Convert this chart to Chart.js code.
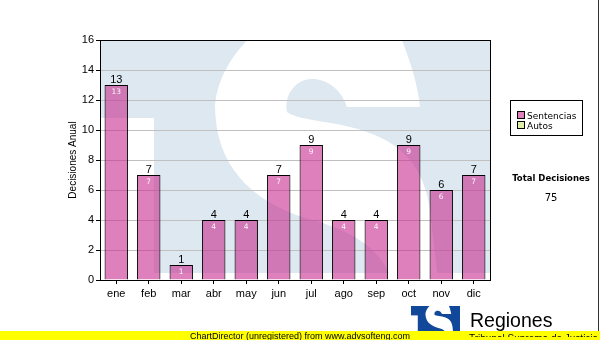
<!DOCTYPE html>
<html>
<head>
<meta charset="utf-8">
<script src="https://cdn.jsdelivr.net/npm/chart.js@4/dist/chart.umd.min.js"></script>
<style>
  html, body { margin: 0; padding: 0; background: #ffffff; }
  canvas { display: block; }
</style>
</head>
<body>
<canvas id="chart" width="600" height="340"></canvas>
<script>
// Monthly decisions
const months = ['ene', 'feb', 'mar', 'abr', 'may', 'jun', 'jul', 'ago', 'sep', 'oct', 'nov', 'dic'];
const sentencias = [13, 7, 1, 4, 4, 7, 9, 4, 4, 9, 6, 7];
const autos = [0, 0, 0, 0, 0, 0, 0, 0, 0, 0, 0, 0];
const seriesNames = ['Sentencias', 'Autos'];
const yMin = 0, yMax = 16, yStep = 2;

const totalDecisiones = sentencias.reduce((a, b) => a + b, 0) + autos.reduce((a, b) => a + b, 0);

const COLORS = {
  sentencias: 'rgba(200, 43, 143, 0.6)',
  sentenciasSwatch: '#e07fbd',
  autos: 'rgba(196, 228, 110, 0.6)',
  autosSwatch: '#dff0a4',
  wash: '#dde8f1',
  grid: '#c0c0c0',
  logoBlue: '#11489a'
};

const SANS = '"Liberation Sans", Arial, sans-serif';
const VERD = '"DejaVu Sans", Verdana, sans-serif';

// TS emblem, drawn in a 390 x 233 local box
function emblem(ctx, dark, light) {
  ctx.fillStyle = dark;
  ctx.fillRect(0, 0, 390, 233);
  ctx.fillStyle = light;
  ctx.fillRect(0, 78, 54, 160);
  ctx.beginPath();
  ctx.moveTo(152, -5);
  ctx.lineTo(300, -5);
  ctx.bezierCurveTo(310, 20, 318, 45, 320, 67);
  ctx.lineTo(247, 67);
  ctx.bezierCurveTo(240, 45, 220, 36, 205, 40);
  ctx.bezierCurveTo(192, 44, 184, 58, 187, 72);
  ctx.bezierCurveTo(200, 82, 240, 80, 275, 95);
  ctx.bezierCurveTo(310, 110, 325, 135, 330, 170);
  ctx.lineTo(338, 240);
  ctx.lineTo(292, 240);
  ctx.bezierCurveTo(280, 205, 245, 188, 205, 178);
  ctx.bezierCurveTo(150, 160, 115, 125, 115, 65);
  ctx.bezierCurveTo(118, 35, 135, 12, 152, -5);
  ctx.closePath();
  ctx.fill();
}

const backdrop = {
  id: 'backdrop',
  beforeDraw(chart) {
    const { ctx, chartArea: a } = chart;
    ctx.save();
    ctx.fillStyle = '#ffffff';
    ctx.fillRect(0, 0, chart.width, chart.height);
    ctx.beginPath();
    ctx.rect(a.left, a.top, a.right - a.left, a.bottom - a.top);
    ctx.clip();
    ctx.translate(a.left, a.top);
    ctx.scale((a.right - a.left) / 390, (a.bottom - a.top) / 240);
    emblem(ctx, COLORS.wash, '#ffffff');
    ctx.restore();
  }
};

const decorations = {
  id: 'decorations',
  afterDatasetsDraw(chart) {
    const { ctx } = chart;
    const meta = chart.getDatasetMeta(0);
    ctx.save();
    ctx.textAlign = 'center';
    meta.data.forEach((bar, i) => {
      const v = chart.data.datasets[0].data[i];
      ctx.fillStyle = '#000000';
      ctx.font = '11px ' + SANS;
      ctx.textBaseline = 'alphabetic';
      ctx.fillText(String(v), bar.x, bar.y - 2);
      ctx.fillStyle = 'rgba(255,255,255,0.92)';
      ctx.font = '7.5px ' + VERD;
      ctx.textBaseline = 'middle';
      ctx.fillText(String(v), bar.x, bar.y + 7);
    });
    ctx.restore();
  },
  afterDraw(chart) {
    const { ctx, chartArea: a } = chart;
    ctx.save();
    // plot frame
    ctx.strokeStyle = '#000000';
    ctx.lineWidth = 1;
    ctx.strokeRect(Math.round(a.left) + 0.5, Math.round(a.top) + 0.5,
                   Math.round(a.right - a.left), Math.round(a.bottom - a.top));

    // axis title
    ctx.save();
    ctx.translate(73, (a.top + a.bottom) / 2);
    ctx.rotate(-Math.PI / 2);
    ctx.fillStyle = '#000';
    ctx.font = '10px ' + SANS;
    ctx.textAlign = 'center';
    ctx.textBaseline = 'middle';
    ctx.fillText('Decisiones Anual', 0, 0);
    ctx.restore();

    // legend
    ctx.fillStyle = '#ffffff';
    ctx.fillRect(510.5, 100.5, 72, 35);
    ctx.strokeRect(510.5, 100.5, 72, 35);
    const swatches = [COLORS.sentenciasSwatch, COLORS.autosSwatch];
    seriesNames.forEach((name, i) => {
      const y = 110.5 + i * 10.5;
      ctx.fillStyle = swatches[i];
      ctx.fillRect(517.5, Math.round(y) + 0.5, 7, 7);
      ctx.strokeStyle = '#000';
      ctx.strokeRect(517.5, Math.round(y) + 0.5, 7, 7);
      ctx.fillStyle = '#000';
      ctx.font = '9px ' + VERD;
      ctx.textAlign = 'left';
      ctx.textBaseline = 'alphabetic';
      ctx.fillText(name, 527, Math.round(y) + 7.5);
    });

    // total
    ctx.textAlign = 'center';
    ctx.fillStyle = '#000';
    ctx.font = 'bold 8.5px ' + VERD;
    ctx.fillText('Total Decisiones', 551, 181);
    ctx.font = '10px ' + VERD;
    ctx.fillText(String(totalDecisiones), 551, 201);

    // right edge
    ctx.fillStyle = '#333333';
    ctx.fillRect(598, 0, 1, 331);

    // footer emblem
    ctx.save();
    ctx.translate(411, 306);
    ctx.scale(49 / 390, 28 / 233);
    ctx.beginPath();
    ctx.rect(0, 0, 390, 233);
    ctx.clip();
    emblem(ctx, COLORS.logoBlue, '#ffffff');
    ctx.restore();
    ctx.fillStyle = '#000';
    ctx.textAlign = 'left';
    ctx.font = '19.5px ' + SANS;
    ctx.fillText('Regiones', 470, 327);

    // footer band
    ctx.fillStyle = '#ffff00';
    ctx.fillRect(0, 331, 600, 9);
    ctx.save();
    ctx.beginPath();
    ctx.rect(460, 330, 140, 7);
    ctx.clip();
    ctx.fillStyle = '#000';
    ctx.font = '10px ' + SANS;
    ctx.fillText('Tribunal Supremo de Justicia', 469, 342);
    ctx.restore();
    ctx.fillStyle = '#000';
    ctx.textAlign = 'center';
    ctx.font = '9px ' + SANS;
    ctx.fillText('ChartDirector (unregistered) from www.advsofteng.com', 300, 338.5);
    ctx.restore();
  }
};

new Chart(document.getElementById('chart'), {
  type: 'bar',
  data: {
    labels: months,
    datasets: [
      {
        label: seriesNames[0],
        data: sentencias,
        backgroundColor: COLORS.sentencias,
        borderColor: '#000000',
        borderWidth: 1,
        borderSkipped: 'bottom',
        barPercentage: 0.72,
        categoryPercentage: 1.0
      },
      {
        label: seriesNames[1],
        data: autos,
        backgroundColor: COLORS.autos,
        borderColor: '#000000',
        borderWidth: 0,
        barPercentage: 0.72,
        categoryPercentage: 1.0
      }
    ]
  },
  options: {
    responsive: false,
    animation: false,
    devicePixelRatio: 1,
    layout: { padding: { top: 40, right: 110, bottom: 0, left: 0 } },
    plugins: {
      legend: { display: false },
      tooltip: { enabled: false },
      title: { display: false }
    },
    scales: {
      x: {
        stacked: true,
        afterFit(s) { s.height = 60; },
        grid: { display: true, drawOnChartArea: false, offset: false, tickLength: 4, tickColor: '#000000' },
        border: { display: true, color: '#000000', width: 1 },
        ticks: { color: '#000000', padding: 3, font: { family: SANS, size: 11 } }
      },
      y: {
        stacked: true,
        min: yMin,
        max: yMax,
        afterFit(s) { s.width = 100; },
        grid: { color: COLORS.grid, tickLength: 4, tickColor: '#000000' },
        border: { display: true, color: '#000000', width: 1 },
        ticks: { stepSize: yStep, color: '#000000', padding: 2, font: { family: SANS, size: 11 } }
      }
    }
  },
  plugins: [backdrop, decorations]
});
</script>
</body>
</html>
